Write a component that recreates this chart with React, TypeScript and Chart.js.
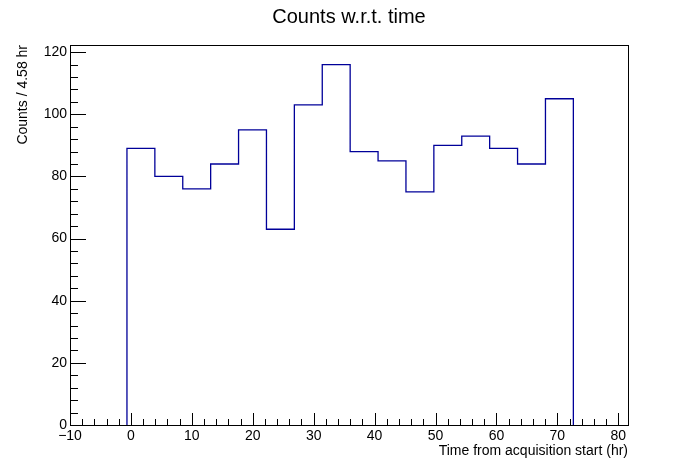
import React, { useEffect, useRef } from "react";
import { Chart, registerables } from "chart.js";

Chart.register(...registerables);

const binStart = -0.65;
const binWidth = 4.58;
const counts = [89, 80, 76, 84, 95, 63, 103, 116, 88, 85, 75, 90, 93, 89, 84, 105];
const xTicks = [-10, 0, 10, 20, 30, 40, 50, 60, 70, 80];
const yTicks = [0, 20, 40, 60, 80, 100, 120];

const LINE = "#000099";
const FONT = "'Liberation Sans', Arial, sans-serif";

// outline of the histogram: each bin gives its left and right top corner
const points: { x: number; y: number }[] = [{ x: binStart, y: 0 }];
counts.forEach((c, i) => {
  const x0 = binStart + i * binWidth;
  points.push({ x: x0, y: c });
  points.push({ x: x0 + binWidth, y: c });
});
points.push({ x: binStart + counts.length * binWidth, y: 0 });

const rootAxes = {
  id: "rootAxes",
  afterDraw(chart: any) {
    const { ctx, chartArea: a, scales } = chart;
    const xs = scales.x;
    const ys = scales.y;
    ctx.save();
    ctx.strokeStyle = "#000";
    ctx.lineWidth = 1;
    ctx.strokeRect(a.left + 0.5, a.top + 0.5, a.right - a.left, a.bottom - a.top);
    ctx.beginPath();
    for (let v = -10; v <= 81; v += 2) {
      const px = Math.round(xs.getPixelForValue(v)) + 0.5;
      const len = v % 10 === 0 ? 12 : 6;
      ctx.moveTo(px, a.bottom);
      ctx.lineTo(px, a.bottom - len);
    }
    for (let v = 0; v <= 122; v += 4) {
      const py = Math.round(ys.getPixelForValue(v)) + 0.5;
      const len = v % 20 === 0 ? 16 : 8;
      ctx.moveTo(a.left, py);
      ctx.lineTo(a.left + len, py);
    }
    ctx.stroke();
    ctx.fillStyle = "#000";
    ctx.font = `14px ${FONT}`;
    ctx.textAlign = "center";
    ctx.textBaseline = "top";
    xTicks.forEach((v) => {
      const label = v < 0 ? "\u2212" + Math.abs(v) : String(v);
      ctx.fillText(label, xs.getPixelForValue(v), a.bottom + 4);
    });
    ctx.textAlign = "right";
    ctx.textBaseline = "middle";
    yTicks.forEach((v) => ctx.fillText(String(v), a.left - 3, ys.getPixelForValue(v)));
    ctx.textAlign = "right";
    ctx.textBaseline = "top";
    ctx.fillText("Time from acquisition start (hr)", a.right, a.bottom + 19);
    ctx.save();
    ctx.translate(16, a.top);
    ctx.rotate(-Math.PI / 2);
    ctx.textAlign = "right";
    ctx.textBaseline = "top";
    ctx.fillText("Counts / 4.58 hr", 0, 0);
    ctx.restore();
    ctx.font = `20px ${FONT}`;
    ctx.textAlign = "center";
    ctx.textBaseline = "middle";
    ctx.fillText("Counts w.r.t. time", 349, 17);
    ctx.restore();
  },
};

export default function App() {
  const ref = useRef<HTMLCanvasElement>(null);
  useEffect(() => {
    document.body.style.margin = "0";
    const chart = new Chart(ref.current!, {
      type: "scatter",
      data: {
        datasets: [
          {
            data: points,
            showLine: true,
            pointRadius: 0,
            borderWidth: 1.3,
            borderColor: LINE,
          },
        ],
      },
      options: {
        animation: false,
        responsive: false,
        layout: { padding: { left: 70, right: 70, top: 45, bottom: 48 } },
        plugins: { legend: { display: false }, tooltip: { enabled: false } },
        scales: {
          x: { type: "linear", min: -10, max: 81.6, display: false },
          y: { type: "linear", min: 0, max: 122.3, display: false },
        },
      },
      plugins: [rootAxes],
    });
    return () => chart.destroy();
  }, []);
  return (
    <div style={{ background: "#fff" }}>
      <canvas ref={ref} width={698} height={473} />
    </div>
  );
}
